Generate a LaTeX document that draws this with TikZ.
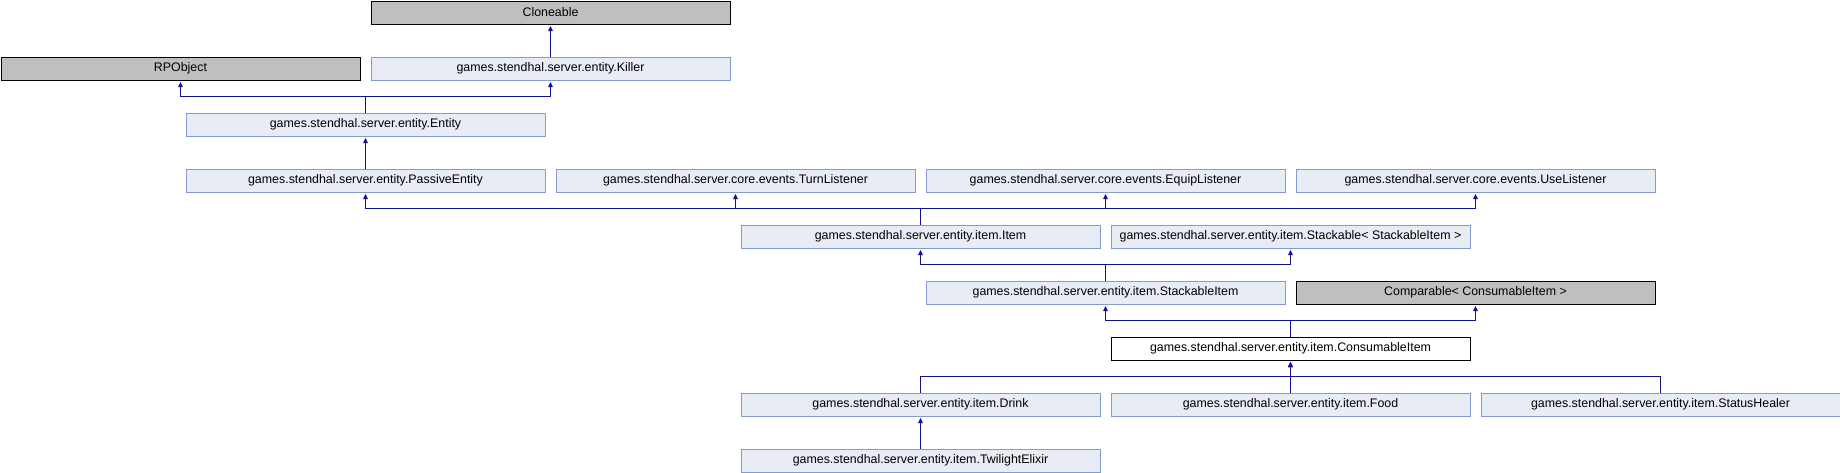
\documentclass[tikz,border=0pt]{standalone}
\usepackage{fontspec}
\setmainfont{Liberation Sans}
\usetikzlibrary{arrows.meta}
\definecolor{boxfill}{RGB}{232,236,245}
\definecolor{boxline}{RGB}{133,155,206}
\definecolor{greyfill}{RGB}{191,191,191}
\definecolor{conncol}{RGB}{16,16,144}
\tikzset{
  cls/.style={draw=boxline, fill=boxfill, line width=1pt, rectangle, anchor=north west,
    minimum width=359pt, minimum height=23pt, inner sep=0pt,
    font=\fontsize{12.4}{14}\selectfont},
  ext/.style={cls, draw=black, fill=greyfill},
  cur/.style={cls, draw=black, fill=white},
  conn/.style={draw=conncol, line width=1pt, -{Triangle[length=5pt,width=4.5pt]}, shorten >=1.5pt},
}
\begin{document}
\begin{tikzpicture}[x=1pt,y=-1pt]
\useasboundingbox (0,0) rectangle (1840,472);
\node[ext] (clo) at (370.5,0.5) {Cloneable};
\node[ext] (rpo) at (0.5,56.5) {RPObject};
\node[cls] (kil) at (370.5,56.5) {games.stendhal.server.entity.Killer};
\node[cls] (ent) at (185.5,112.5) {games.stendhal.server.entity.Entity};
\node[cls] (pas) at (185.5,168.5) {games.stendhal.server.entity.PassiveEntity};
\node[cls] (tur) at (555.5,168.5) {games.stendhal.server.core.events.TurnListener};
\node[cls] (equ) at (925.5,168.5) {games.stendhal.server.core.events.EquipListener};
\node[cls] (use) at (1295.5,168.5) {games.stendhal.server.core.events.UseListener};
\node[cls] (itm) at (740.5,224.5) {games.stendhal.server.entity.item.Item};
\node[cls] (stk) at (1110.5,224.5) {games.stendhal.server.entity.item.Stackable< StackableItem >};
\node[cls] (sti) at (925.5,280.5) {games.stendhal.server.entity.item.StackableItem};
\node[ext] (cmp) at (1295.5,280.5) {Comparable< ConsumableItem >};
\node[cur] (con) at (1110.5,336.5) {games.stendhal.server.entity.item.ConsumableItem};
\node[cls] (dri) at (740.5,392.5) {games.stendhal.server.entity.item.Drink};
\node[cls] (foo) at (1110.5,392.5) {games.stendhal.server.entity.item.Food};
\node[cls] (sta) at (1480.5,392.5) {games.stendhal.server.entity.item.StatusHealer};
\node[cls] (twi) at (740.5,448.5) {games.stendhal.server.entity.item.TwilightElixir};

\draw[conn] (kil.north) -- (clo.south);
\draw[conn] (ent.north) -- ++(0,-16) -| (rpo.south);
\draw[conn] (ent.north) -- ++(0,-16) -| (kil.south);
\draw[conn] (pas.north) -- (ent.south);
\draw[conn] (itm.north) -- ++(0,-16) -| (pas.south);
\draw[conn] (itm.north) -- ++(0,-16) -| (tur.south);
\draw[conn] (itm.north) -- ++(0,-16) -| (equ.south);
\draw[conn] (itm.north) -- ++(0,-16) -| (use.south);
\draw[conn] (sti.north) -- ++(0,-16) -| (itm.south);
\draw[conn] (sti.north) -- ++(0,-16) -| (stk.south);
\draw[conn] (con.north) -- ++(0,-16) -| (sti.south);
\draw[conn] (con.north) -- ++(0,-16) -| (cmp.south);
\draw[conn] (dri.north) -- ++(0,-16) -| (con.south);
\draw[conn] (foo.north) -- (con.south);
\draw[conn] (sta.north) -- ++(0,-16) -| (con.south);
\draw[conn] (twi.north) -- (dri.south);
\end{tikzpicture}
\end{document}
